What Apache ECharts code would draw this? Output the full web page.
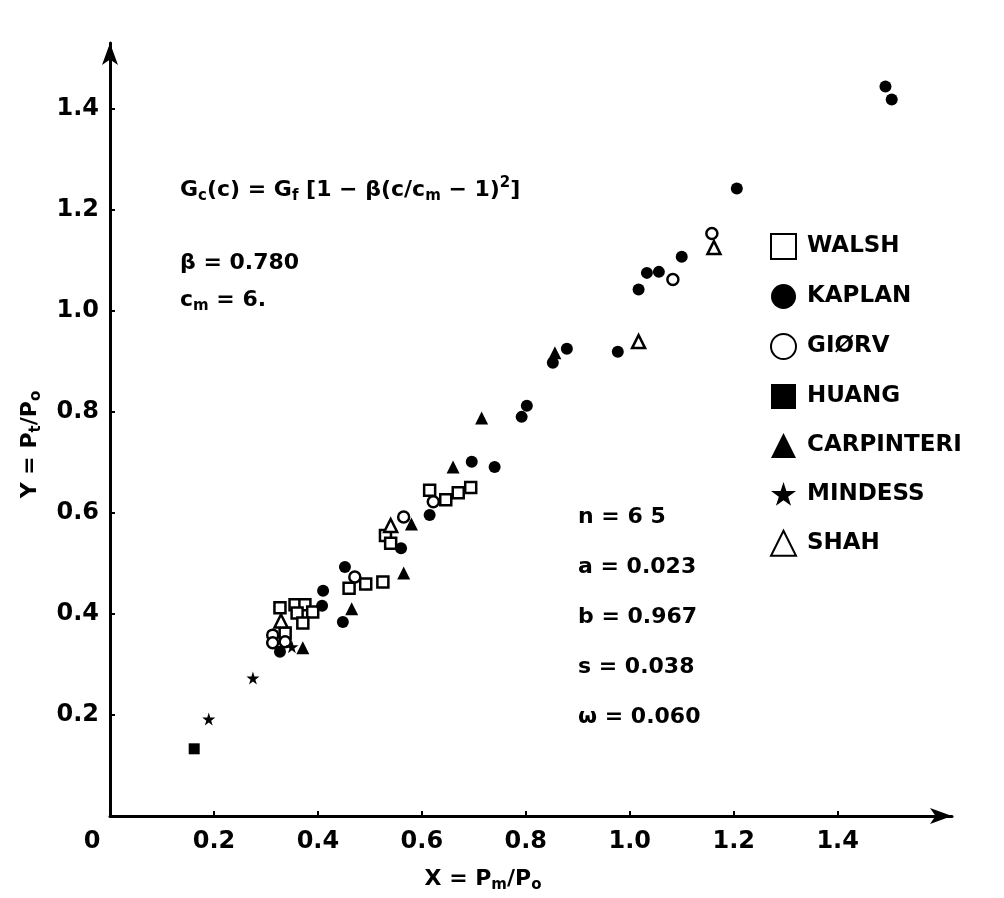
<!DOCTYPE html>
<html><head><meta charset="utf-8">
<script src="https://cdn.jsdelivr.net/npm/echarts@6/dist/echarts.min.js"></script>
<style>html,body{margin:0;padding:0;background:#fff}#c{width:1004px;height:898px}</style>
</head><body><div id="c"></div>
<script>
// ---- data (X = Pm/Po, Y = Pt/Po) ----
const walsh = [[0.327,0.412],[0.356,0.418],[0.375,0.418],[0.360,0.402],[0.390,0.404],[0.371,0.382],[0.337,0.362],[0.460,0.451],[0.492,0.459],[0.525,0.463],[0.530,0.555],[0.540,0.540],[0.615,0.645],[0.646,0.626],[0.670,0.640],[0.694,0.650]];
const kaplan = [[0.327,0.325],[0.408,0.416],[0.410,0.446],[0.448,0.384],[0.452,0.493],[0.560,0.530],[0.615,0.596],[0.696,0.701],[0.740,0.691],[0.792,0.790],[0.802,0.812],[0.852,0.897],[0.879,0.925],[0.977,0.919],[1.017,1.042],[1.033,1.075],[1.056,1.077],[1.100,1.107],[1.206,1.242],[1.492,1.444],[1.504,1.418]];
const giorv = [[0.313,0.358],[0.313,0.343],[0.337,0.345],[0.471,0.473],[0.565,0.592],[0.622,0.622],[1.083,1.062],[1.158,1.153]];
const huang = [[0.162,0.133]];
const carpinteri = [[0.371,0.333],[0.465,0.410],[0.565,0.481],[0.580,0.578],[0.660,0.691],[0.715,0.788],[0.856,0.917]];
const mindess = [[0.190,0.192],[0.275,0.273],[0.350,0.335]];
const shah = [[0.329,0.386],[0.540,0.575],[1.017,0.939],[1.162,1.125]];
const seriesNames = ['WALSH','KAPLAN','GIØRV','HUANG','CARPINTERI','MINDESS','SHAH'];
const xTickValues = [0,0.2,0.4,0.6,0.8,1.0,1.2,1.4];
const xTickLabels = ['0','0.2','0.4','0.6','0.8','1.0','1.2','1.4'];
const yTickValues = [0.2,0.4,0.6,0.8,1.0,1.2,1.4];
const yTickLabels = ['0.2','0.4','0.6','0.8','1.0','1.2','1.4'];
const statLines = ['n = 6 5','a = 0.023','b = 0.967','s = 0.038','ω = 0.060'];

const FONT = 'DejaVu Sans';
const STAR = 'path://M50,0 L61,35 L98,35 L68,57 L79,91 L50,70 L21,91 L32,57 L2,35 L39,35 Z';
const openStyle = {color:'#fff', borderColor:'#000', borderWidth:2.5, opacity:1};
const fillStyle = {color:'#000', borderColor:'#000', borderWidth:0, opacity:1};

function findLabel(vals, labels, v){
  for (let i=0;i<vals.length;i++){ if (Math.abs(vals[i]-v)<1e-6) return labels[i]; }
  return '';
}

const chart = echarts.init(document.getElementById('c'), null, {renderer:'canvas'});
const defs = [
  {data:walsh, symbol:'rect', size:11, style:openStyle},
  {data:kaplan, symbol:'circle', size:12, style:fillStyle},
  {data:giorv, symbol:'circle', size:11, style:openStyle},
  {data:huang, symbol:'rect', size:11, style:fillStyle},
  {data:carpinteri, symbol:'triangle', size:13, style:fillStyle},
  {data:mindess, symbol:STAR, size:13, style:fillStyle},
  {data:shah, symbol:'triangle', size:13, style:openStyle}
];
const legendIcons = ['rect','circle','circle','rect','triangle',STAR,'triangle'];

const statGraphics = statLines.map((t,i)=>({
  type:'text', left:578, top:506 + i*50,
  style:{text:t, font:'bold 22px "DejaVu Sans"', fill:'#000'}
}));

chart.setOption({
  animation:false,
  backgroundColor:'#fff',
  grid:{left:110, right:52, top:43, bottom:82, containLabel:false},
  xAxis:{
    type:'value', min:0, max:1.62, interval:0.2,
    name:'X = P{s|m}/P{s|o}', nameLocation:'middle', nameGap:50,
    nameTextStyle:{fontFamily:FONT, fontWeight:'bold', fontSize:22, color:'#000', padding:[0,96,0,0],
      rich:{s:{fontFamily:FONT, fontWeight:'bold', fontSize:15, color:'#000', padding:[12,0,0,0]}}},
    axisLine:{show:true, onZero:false, symbol:['none','arrow'], symbolSize:[12,22], lineStyle:{color:'#000', width:3}},
    axisTick:{show:true, inside:true, length:5, customValues:xTickValues.slice(1), lineStyle:{color:'#000', width:2}},
    splitLine:{show:false},
    axisLabel:{margin:14, color:'#000', fontFamily:FONT, fontWeight:'bold', fontSize:24, customValues:xTickValues,
      formatter:function(v){ if (Math.abs(v)<1e-6) return '{o|0}'; return findLabel(xTickValues, xTickLabels, v); },
      rich:{o:{fontFamily:FONT, fontWeight:'bold', fontSize:24, color:'#000', padding:[0,36,0,0]}}}
  },
  yAxis:{
    type:'value', min:0, max:1.53, interval:0.2,
    name:'Y = P{s|t}/P{s|o}', nameLocation:'middle', nameGap:66, nameRotate:90,
    nameTextStyle:{fontFamily:FONT, fontWeight:'bold', fontSize:22, color:'#000', padding:[0,30,0,0],
      rich:{s:{fontFamily:FONT, fontWeight:'bold', fontSize:15, color:'#000', padding:[12,0,0,0]}}},
    axisLine:{show:true, onZero:false, symbol:['none','arrow'], symbolSize:[12,22], lineStyle:{color:'#000', width:3}},
    axisTick:{show:true, inside:true, length:5, customValues:yTickValues, lineStyle:{color:'#000', width:2}},
    splitLine:{show:false},
    axisLabel:{margin:11, color:'#000', fontFamily:FONT, fontWeight:'bold', fontSize:24, customValues:yTickValues,
      formatter:function(v){ return findLabel(yTickValues, yTickLabels, v); }}
  },
  legend:{
    orient:'vertical', left:765, top:228, itemWidth:25, itemHeight:25, itemGap:24,
    data: seriesNames.map((n,i)=>({name:n, icon:legendIcons[i]})),
    itemStyle:{opacity:1},
    textStyle:{fontFamily:FONT, fontWeight:'bold', fontSize:23, color:'#000', padding:[0,0,0,6]},
    selectedMode:false
  },
  graphic:[
    {type:'text', left:180, top:176,
      style:{text:'G{s|c}(c) = G{s|f} [1 − β(c/c{s|m} − 1){p|2}]', font:'bold 22px "DejaVu Sans"', fill:'#000',
        rich:{s:{font:'bold 15px "DejaVu Sans"', fill:'#000', padding:[12,0,0,0]}, p:{font:'bold 15px "DejaVu Sans"', fill:'#000', padding:[0,0,14,0]}}}},
    {type:'text', left:180, top:252, style:{text:'β = 0.780', font:'bold 22px "DejaVu Sans"', fill:'#000'}},
    {type:'text', left:180, top:289, style:{text:'c{s|m} = 6.', font:'bold 22px "DejaVu Sans"', fill:'#000',
        rich:{s:{font:'bold 15px "DejaVu Sans"', fill:'#000', padding:[12,0,0,0]}}}}
  ].concat(statGraphics),
  series: defs.map((d,i)=>({
    name:seriesNames[i], type:'scatter', data:d.data, symbol:d.symbol, symbolSize:d.size,
    itemStyle:d.style, emphasis:{disabled:true}, silent:true
  }))
});
</script></body></html>
